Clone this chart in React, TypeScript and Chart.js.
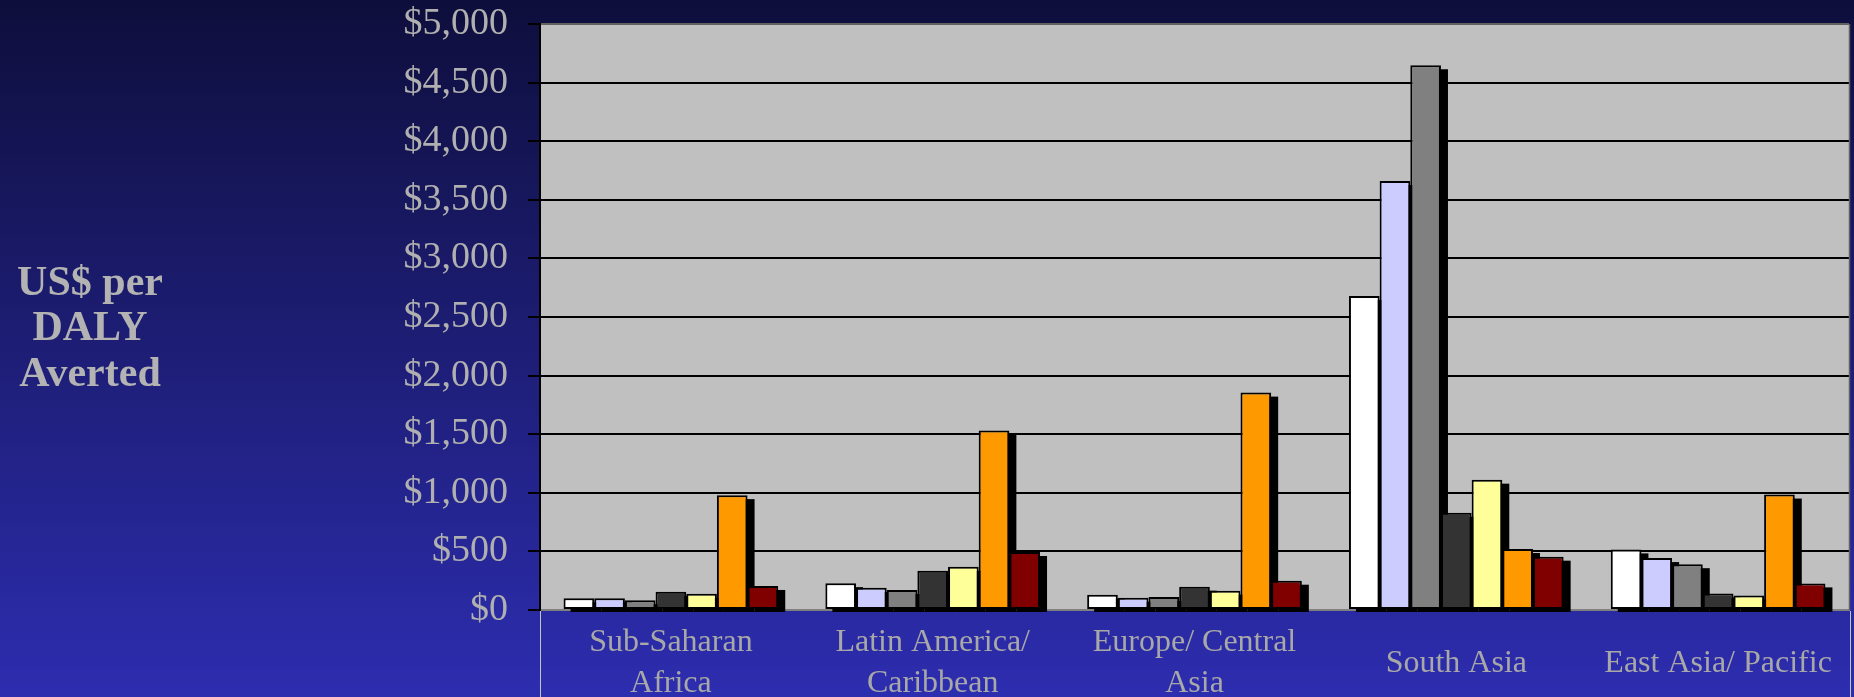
import React, { useEffect, useRef } from 'react';
import { Chart, registerables } from 'chart.js';

Chart.register(...registerables);

// ---- data ----
const categories: (string | string[])[] = [
  ['Sub-Saharan', 'Africa'],
  ['Latin America/', 'Caribbean'],
  ['Europe/ Central', 'Asia'],
  'South Asia',
  'East Asia/ Pacific',
];

const series1 = [100, 229, 131, 2680, 517];
const series2 = [100, 189, 105, 3660, 443];
const series3 = [83, 171, 111, 4648, 391];
const series4 = [155, 334, 199, 830, 141];
const series5 = [138, 369, 165, 1112, 124];
const series6 = [980, 1532, 1855, 520, 985];
const series7 = [205, 495, 250, 455, 227];

const seriesNames = ['Series 1', 'Series 2', 'Series 3', 'Series 4', 'Series 5', 'Series 6', 'Series 7'];
const seriesColors = ['#ffffff', '#ccccff', '#808080', '#333333', '#ffff99', '#ff9900', '#800000'];

const yMin = 0;
const yMax = 5000;
const yStep = 500;

const titleLines = ['US$ per', 'DALY', 'Averted'];

const SERIF = "'Liberation Serif', 'Times New Roman', serif";

export default function App() {
  const ref = useRef<HTMLCanvasElement>(null);

  useEffect(() => {
    const allSeries = [series1, series2, series3, series4, series5, series6, series7];

    const backgroundPlugin = {
      id: 'bgPlugin',
      beforeDraw(chart: any) {
        const { ctx, width, height, chartArea } = chart;
        ctx.save();
        const g = ctx.createLinearGradient(0, 0, 0, height);
        g.addColorStop(0, '#0e0e3c');
        g.addColorStop(1, '#2d2db0');
        ctx.fillStyle = g;
        ctx.fillRect(0, 0, width, height);
        ctx.fillStyle = '#c0c0c0';
        ctx.fillRect(chartArea.left, chartArea.top, chartArea.right - chartArea.left, chartArea.bottom - chartArea.top);
        ctx.restore();
      },
      beforeDatasetsDraw(chart: any) {
        const { ctx } = chart;
        ctx.save();
        ctx.fillStyle = '#000000';
        const dx = 7;
        const dy = 4;
        chart.data.datasets.forEach((_: any, i: number) => {
          const meta = chart.getDatasetMeta(i);
          meta.data.forEach((bar: any) => {
            const w = bar.width;
            const left = bar.x - w / 2 + dx;
            const top = bar.y + dy;
            const bottom = bar.base + 3;
            ctx.fillRect(left, top, w, bottom - top);
          });
        });
        ctx.restore();
      },
      afterDraw(chart: any) {
        const { ctx, chartArea, height } = chart;
        ctx.save();
        // right border of plot area
        ctx.strokeStyle = '#606060';
        ctx.lineWidth = 1.5;
        ctx.beginPath();
        ctx.moveTo(chartArea.right + 0.5, chartArea.top);
        ctx.lineTo(chartArea.right + 0.5, chartArea.bottom);
        ctx.stroke();
        // label box side lines
        ctx.strokeStyle = '#c4c4c4';
        ctx.lineWidth = 1;
        ctx.beginPath();
        ctx.moveTo(chartArea.left + 0.5, chartArea.bottom + 1);
        ctx.lineTo(chartArea.left + 0.5, height);
        ctx.moveTo(chartArea.right + 1.5, chartArea.bottom + 1);
        ctx.lineTo(chartArea.right + 1.5, height);
        ctx.stroke();
        // axis title
        ctx.fillStyle = '#b3b3b3';
        ctx.font = `bold 42px ${SERIF}`;
        ctx.textAlign = 'center';
        ctx.textBaseline = 'alphabetic';
        const baselines = [295, 340, 386];
        titleLines.forEach((t, i) => ctx.fillText(t, 90, baselines[i]));
        ctx.restore();
      },
    };

    const chart = new Chart(ref.current!, {
      type: 'bar',
      data: {
        labels: categories,
        datasets: allSeries.map((d, i) => ({
          label: seriesNames[i],
          data: d,
          backgroundColor: seriesColors[i],
          borderColor: '#000000',
          borderWidth: 2,
          borderSkipped: false,
          categoryPercentage: 0.82,
          barPercentage: 1.0,
        })),
      },
      options: {
        responsive: false,
        animation: false,
        devicePixelRatio: 1,
        layout: { padding: { left: 0, top: 24, right: 5, bottom: 0 } },
        plugins: {
          legend: { display: false },
          tooltip: { enabled: false },
          title: { display: false },
        },
        scales: {
          x: {
            grid: { display: false, drawTicks: false },
            border: { display: true, color: '#808080', width: 2 },
            ticks: {
              color: '#a8a8a8',
              font: { family: SERIF, size: 32, lineHeight: 41 / 32 },
              padding: 33,
              crossAlign: 'center',
              maxRotation: 0,
              minRotation: 0,
              autoSkip: false,
            },
            afterFit(scale: any) {
              scale.height = 87;
              scale.paddingLeft = 0;
              scale.paddingRight = 0;
            },
          },
          y: {
            min: yMin,
            max: yMax,
            grid: {
              color: (c: any) => (c.tick && c.tick.value === 0 ? '#808080' : c.tick && c.tick.value === yMax ? '#606060' : '#000000'),
              lineWidth: 2,
              tickColor: '#000000',
              tickLength: 12,
              drawTicks: true,
            },
            border: { display: true, color: '#000000', width: 2 },
            ticks: {
              stepSize: yStep,
              color: '#b0b0b0',
              font: { family: SERIF, size: 38 },
              padding: 20,
              callback: (v: any) => '$' + Number(v).toLocaleString('en-US'),
            },
            afterFit(scale: any) {
              scale.width = 540;
              scale.paddingTop = 0;
              scale.paddingBottom = 0;
            },
          },
        },
      },
      plugins: [backgroundPlugin],
    });

    return () => chart.destroy();
  }, []);

  return (
    <div style={{ position: 'fixed', left: 0, top: 0, width: 1854, height: 697 }}>
      <canvas ref={ref} width={1854} height={697} style={{ display: 'block' }} />
    </div>
  );
}
